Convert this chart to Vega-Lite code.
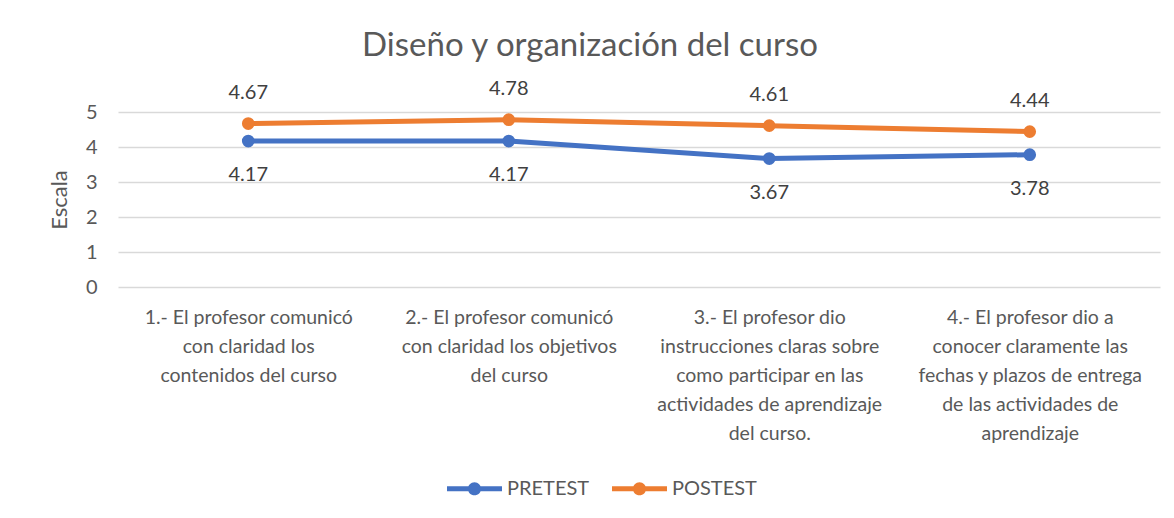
{
  "$schema": "https://vega.github.io/schema/vega-lite/v6.json",
  "autosize": "none",
  "width": 1042,
  "height": 175,
  "padding": {"left": 118, "top": 112, "right": 14, "bottom": 231},
  "background": "white",
  "config": {
    "view": {"stroke": null},
    "font": "Lato"
  },
  "title": {
    "text": "Diseño y organización del curso",
    "fontSize": 33,
    "fontWeight": "normal",
    "color": "#595959",
    "font": "Lato",
    "anchor": "middle",
    "dx": -49,
    "offset": 16
  },
  "data": {
    "values": [
      {"item": "1.- El profesor comunicó|con claridad los|contenidos del curso", "serie": "PRETEST", "valor": 4.17},
      {"item": "2.- El profesor comunicó|con claridad los objetivos|del curso", "serie": "PRETEST", "valor": 4.17},
      {"item": "3.- El profesor dio|instrucciones claras sobre|como participar en las|actividades de aprendizaje|del curso.", "serie": "PRETEST", "valor": 3.67},
      {"item": "4.- El profesor dio a|conocer claramente las|fechas y plazos de entrega|de las actividades de|aprendizaje", "serie": "PRETEST", "valor": 3.78},
      {"item": "1.- El profesor comunicó|con claridad los|contenidos del curso", "serie": "POSTEST", "valor": 4.67},
      {"item": "2.- El profesor comunicó|con claridad los objetivos|del curso", "serie": "POSTEST", "valor": 4.78},
      {"item": "3.- El profesor dio|instrucciones claras sobre|como participar en las|actividades de aprendizaje|del curso.", "serie": "POSTEST", "valor": 4.61},
      {"item": "4.- El profesor dio a|conocer claramente las|fechas y plazos de entrega|de las actividades de|aprendizaje", "serie": "POSTEST", "valor": 4.44}
    ]
  },
  "encoding": {
    "x": {
      "field": "item",
      "type": "nominal",
      "sort": null,
      "scale": {"paddingInner": 0, "paddingOuter": 0},
      "axis": {
        "title": null,
        "labelAngle": 0,
        "labelExpr": "split(datum.label, '|')",
        "labelFontSize": 19.5,
        "labelColor": "#595959",
        "labelFont": "Lato",
        "labelLineHeight": 29,
        "labelLimit": 280,
        "labelPadding": 21,
        "labelBaseline": "top",
        "domain": false,
        "ticks": false,
        "grid": false
      }
    },
    "y": {
      "field": "valor",
      "type": "quantitative",
      "scale": {"domain": [0, 5], "nice": false},
      "axis": {
        "title": "Escala",
        "titleFontSize": 22,
        "titleFontWeight": "normal",
        "titleColor": "#595959",
        "titleFont": "Lato",
        "titlePadding": 14,
        "values": [0, 1, 2, 3, 4, 5],
        "labelFontSize": 20,
        "labelColor": "#595959",
        "labelPadding": 21,
        "domain": false,
        "ticks": false,
        "grid": true,
        "gridColor": "#d9d9d9",
        "gridWidth": 1.3
      }
    }
  },
  "layer": [
    {
      "mark": {"type": "line", "strokeWidth": 5, "point": {"filled": true, "size": 160}},
      "encoding": {
        "color": {
          "field": "serie",
          "type": "nominal",
          "sort": ["PRETEST", "POSTEST"],
          "scale": {"domain": ["PRETEST", "POSTEST"], "range": ["#4472C4", "#ED7D31"]},
          "legend": {
            "title": null,
            "orient": "none",
            "direction": "horizontal",
            "legendX": 338,
            "legendY": 358,
            "symbolType": "M-1.5,-0.14L1.5,-0.14L1.5,0.14L-1.5,0.14Z M0.36,0A0.36,0.36,0,1,1,-0.36,0A0.36,0.36,0,1,1,0.36,0Z",
            "symbolSize": 1344,
            "symbolStrokeWidth": 0,
            "labelFontSize": 20,
            "labelColor": "#595959",
            "labelFont": "Lato",
            "columnPadding": 22,
            "labelOffset": 14
          }
        }
      }
    },
    {
      "transform": [{"filter": "datum.serie === 'POSTEST'"}],
      "mark": {"type": "text", "dy": -31, "fontSize": 20, "color": "#404040", "baseline": "middle"},
      "encoding": {"text": {"field": "valor", "type": "quantitative", "format": ".2f"}}
    },
    {
      "transform": [{"filter": "datum.serie === 'PRETEST'"}],
      "mark": {"type": "text", "dy": 34, "fontSize": 20, "color": "#404040", "baseline": "middle"},
      "encoding": {"text": {"field": "valor", "type": "quantitative", "format": ".2f"}}
    }
  ]
}
